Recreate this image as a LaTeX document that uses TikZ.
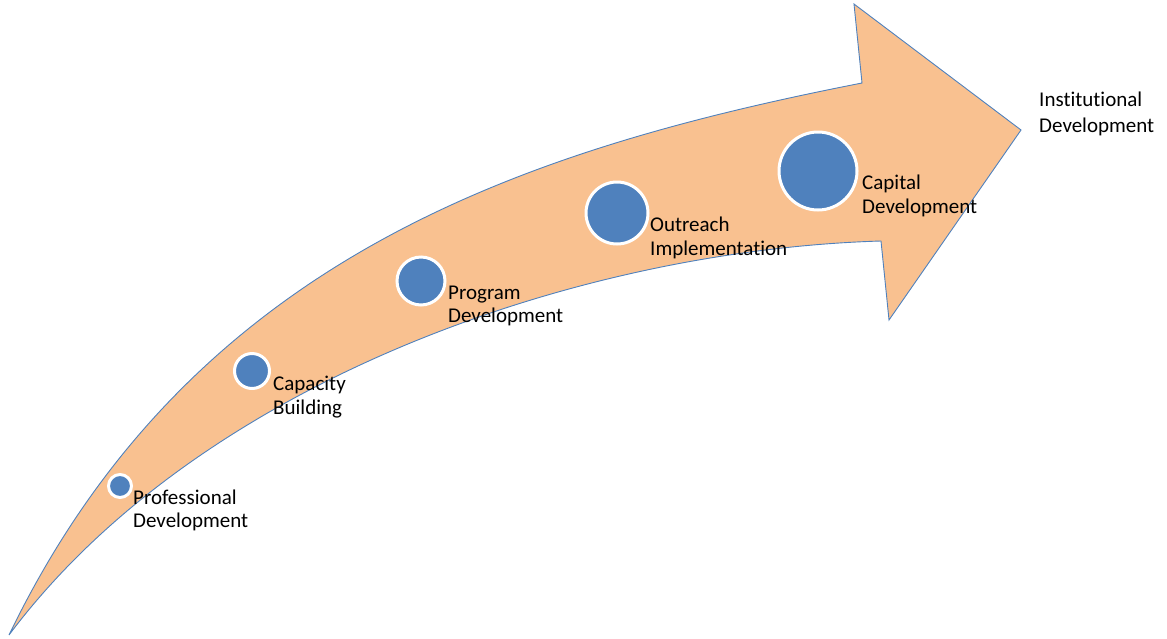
\documentclass[tikz,border=0pt]{standalone}
\usepackage{fontspec}
\setmainfont[Ligatures={NoCommon}]{Carlito}
\definecolor{arrowfill}{RGB}{249,193,144}
\definecolor{arrowline}{RGB}{79,129,189}
\definecolor{dotblue}{RGB}{79,129,189}
\begin{document}
\begin{tikzpicture}[x=1pt,y=-1pt,
  dot/.style={circle,fill=dotblue,draw=white,line width=3pt,inner sep=0pt},
  lbl/.style={anchor=west,inner sep=0pt,align=left,font=\fontsize{21}{23.5}\selectfont}]
\useasboundingbox (0,0) rectangle (1167,638);
% curved arrow
\coordinate (tail) at (9,635);
\coordinate (un) at (862,83);
\coordinate (ub) at (854,4);
\coordinate (tip) at (1021,130);
\coordinate (lb) at (889,320);
\coordinate (ln) at (881,241);
\draw[fill=arrowfill,draw=arrowline,line width=0.9pt,line join=miter]
  (tail) .. controls (190,260) and (520,150) .. (un) -- (ub) -- (tip) -- (lb) -- (ln)
  .. controls (580,250) and (200,380) .. (tail) -- cycle;
% dots
\node[dot,minimum size=23pt] (d1) at (120,486) {};
\node[dot,minimum size=35pt] (d2) at (252,371) {};
\node[dot,minimum size=48pt] (d3) at (421,281) {};
\node[dot,minimum size=62pt] (d4) at (617,213) {};
\node[dot,minimum size=78pt] (d5) at (818,171) {};
% labels
\node[lbl] (t1) at (133,510.5) {Professional\\Development};
\node[lbl] (t2) at (273,397) {Capacity\\Building};
\node[lbl] (t3) at (448,306) {Program\\Development};
\node[lbl] (t4) at (650,238) {Outreach\\Implementation};
\node[lbl] (t5) at (862,196) {Capital\\Development};
\node[lbl,font=\fontsize{21}{25.5}\selectfont] (t6) at (1039,114) {Institutional\\Development};
\end{tikzpicture}
\end{document}
